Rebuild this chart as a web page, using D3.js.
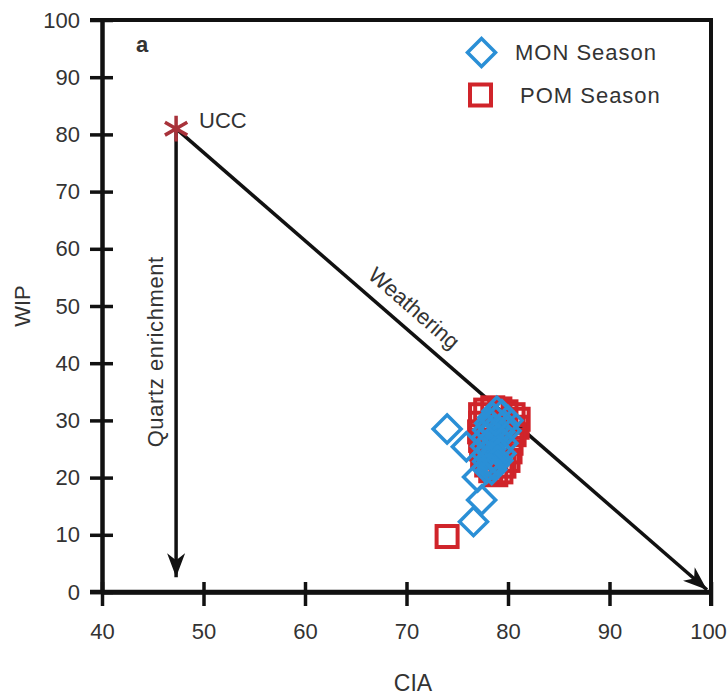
<!DOCTYPE html>
<html>
<head>
<meta charset="utf-8">
<script src="https://cdn.jsdelivr.net/npm/d3@7"></script>
<style>
  body { margin: 0; background: #fff; }
  text { font-family: "Liberation Sans", Arial, sans-serif; fill: #333; }
</style>
</head>
<body>
<svg id="chart" width="728" height="698"></svg>
<script>
// CIA vs WIP, monsoon (MON) and post-monsoon (POM) samples
const xTicks = [40, 50, 60, 70, 80, 90, 100]
const yTicks = [0, 10, 20, 30, 40, 50, 60, 70, 80, 90, 100]

const ucc = [47.3, 81]
const weatherEnd = [99.6, 0.4]
const quartzEnd = [47.3, 2.6]

// POM season [CIA, WIP]
const pom = [
  [77.3, 31], [77.3, 29.5], [77.2, 28], [77.3, 26.5], [77.4, 25],
  [77.5, 23.5], [77.8, 31.8], [78.5, 32.2], [79.2, 32], [79.8, 31.5],
  [80.5, 31], [81, 30.2], [80.9, 28.8], [80.6, 27.5], [80.3, 26],
  [80.2, 24.5], [80, 23], [79.6, 22], [79.3, 21], [78.8, 20.5],
  [78.3, 21.2], [77.9, 22.2], [78, 26], [78.6, 27.5], [79.2, 25.5],
  [79.5, 29.5], [74, 9.7]
]

// MON season [CIA, WIP]
const mon = [
  [74, 28.5], [75.9, 25.4], [77, 20.1], [77.4, 16.1], [76.6, 12.3],
  [78.9, 31.6], [79.4, 31], [80, 30], [79.6, 29.2], [78.5, 30.5],
  [78.2, 29.5], [78, 28.3], [78.6, 28.5], [79.2, 28], [79.8, 28.2],
  [77.9, 27], [78.4, 26.5], [79, 26.8], [79.5, 26], [77.8, 25.5],
  [78.3, 25], [78.9, 24.8], [79.3, 24.2], [77.9, 24], [78.5, 23.5],
  [78, 22.8], [78.6, 22.2], [79, 23], [77.9, 21.6], [78.4, 21.4],
  [78.3, 27.8], [78.8, 30]
]

const svg = d3.select('#chart')

const x = d3.scaleLinear().domain([40, 100]).range([102, 711])
const y = d3.scaleLinear().domain([0, 100]).range([592, 20])

const blue = '#2a8fd6'
const red = '#d0242a'
const ink = '#111'
const fs = '22px'

// arrow head
svg.append('defs').append('marker')
  .attr('id', 'head')
  .attr('viewBox', '0 -9 24 18')
  .attr('refX', 24).attr('refY', 0)
  .attr('markerWidth', 24).attr('markerHeight', 18)
  .attr('markerUnits', 'userSpaceOnUse')
  .attr('orient', 'auto')
  .append('path')
  .attr('d', 'M0,-9L24,0L0,9L7,0Z')
  .attr('fill', ink)

// frame: top and right
svg.append('line')
  .attr('x1', x(40) - 12).attr('x2', x(100) + 2)
  .attr('y1', y(100)).attr('y2', y(100))
  .attr('stroke', ink).attr('stroke-width', 4)
svg.append('line')
  .attr('x1', x(100)).attr('x2', x(100))
  .attr('y1', y(100)).attr('y2', y(0) + 14)
  .attr('stroke', ink).attr('stroke-width', 4)

// axes
const gx = svg.append('g')
  .attr('transform', `translate(0,${y(0)})`)
  .call(d3.axisBottom(x).tickValues(xTicks).tickSize(14).tickPadding(17).tickSizeOuter(0))
gx.selectAll('.tick line').attr('y1', -10).attr('stroke-width', 3.5).attr('stroke', ink)
// last label sits at the window edge
gx.selectAll('.tick text').filter(d => d === 100).attr('dx', -3)

const gy = svg.append('g')
  .attr('transform', `translate(${x(40)},0)`)
  .call(d3.axisLeft(y).tickValues(yTicks).tickSize(12).tickPadding(10).tickSizeOuter(0))
gy.selectAll('.tick line').attr('x2', -12).attr('x1', 11).attr('stroke-width', 3.5).attr('stroke', ink)

svg.selectAll('.domain').attr('stroke', ink).attr('stroke-width', 4.5)
svg.selectAll('.tick text')
  .style('font-family', '"Liberation Sans", Arial, sans-serif')
  .style('font-size', fs).attr('fill', '#333')

svg.append('line')
  .attr('x1', x(40) - 12).attr('x2', x(100))
  .attr('y1', y(0)).attr('y2', y(0))
  .attr('stroke', ink).attr('stroke-width', 4.5)

// axis titles
svg.append('text')
  .attr('x', 413).attr('y', 691)
  .attr('text-anchor', 'middle')
  .style('font-size', '23px')
  .text('CIA')
svg.append('text')
  .attr('transform', `translate(30,${y(50)}) rotate(-90)`)
  .attr('text-anchor', 'middle')
  .style('font-size', fs)
  .text('WIP')

svg.append('text')
  .attr('x', 136).attr('y', 52)
  .style('font-size', fs).style('font-weight', 'bold')
  .attr('fill', '#222')
  .text('a')

// trend lines
const p0 = [x(ucc[0]), y(ucc[1])]
const p1 = [x(weatherEnd[0]), y(weatherEnd[1])]
svg.append('line')
  .attr('x1', p0[0]).attr('y1', p0[1])
  .attr('x2', p1[0]).attr('y2', p1[1])
  .attr('stroke', ink).attr('stroke-width', 3.5)
  .attr('marker-end', 'url(#head)')
svg.append('line')
  .attr('x1', p0[0]).attr('y1', p0[1])
  .attr('x2', x(quartzEnd[0])).attr('y2', y(quartzEnd[1]))
  .attr('stroke', ink).attr('stroke-width', 3.5)
  .attr('marker-end', 'url(#head)')

const ang = Math.atan2(p1[1] - p0[1], p1[0] - p0[0]) * 180 / Math.PI
const pm = d3.interpolate(p0, p1)(0.423)
svg.append('text')
  .attr('transform', `translate(${pm[0]},${pm[1]}) rotate(${ang})`)
  .attr('y', -13)
  .attr('text-anchor', 'middle')
  .style('font-size', fs)
  .text('Weathering')

svg.append('text')
  .attr('transform', `translate(${p0[0] - 21},${y(42)}) rotate(-90)`)
  .attr('text-anchor', 'middle')
  .attr('dy', '0.35em')
  .style('font-size', fs)
  .style('letter-spacing', '0.6px')
  .text('Quartz enrichment')

// UCC marker
svg.append('path')
  .attr('d', d3.symbol(d3.symbolAsterisk, 470)())
  .attr('transform', `translate(${p0[0]},${p0[1]})`)
  .attr('fill', 'none').attr('stroke', '#a8323a').attr('stroke-width', 3.5)
svg.append('text')
  .attr('x', p0[0] + 23).attr('y', p0[1] - 1)
  .style('font-size', fs)
  .text('UCC')

// data
const sq = 21
svg.append('g').selectAll('rect').data(pom).enter()
  .append('rect')
  .attr('x', d => x(d[0]) - sq / 2)
  .attr('y', d => y(d[1]) - sq / 2)
  .attr('width', sq).attr('height', sq)
  .attr('fill', 'none').attr('stroke', red).attr('stroke-width', 4)

const dia = 14
const side = dia * Math.SQRT2
svg.append('g').selectAll('rect').data(mon).enter()
  .append('rect')
  .attr('x', -side / 2).attr('y', -side / 2)
  .attr('width', side).attr('height', side)
  .attr('transform', d => `translate(${x(d[0])},${y(d[1])}) rotate(45)`)
  .attr('fill', 'none').attr('stroke', blue).attr('stroke-width', 3.5)

// legend
const legend = svg.append('g')
legend.append('rect')
  .attr('x', -side / 2).attr('y', -side / 2)
  .attr('width', side).attr('height', side)
  .attr('transform', 'translate(481.5,52.5) rotate(45)')
  .attr('fill', 'none').attr('stroke', blue).attr('stroke-width', 3.5)
legend.append('text')
  .attr('x', 515).attr('y', 60)
  .style('font-size', fs).style('letter-spacing', '1px')
  .text('MON Season')
legend.append('rect')
  .attr('x', 480.5 - sq / 2).attr('y', 95 - sq / 2)
  .attr('width', sq).attr('height', sq)
  .attr('fill', 'none').attr('stroke', red).attr('stroke-width', 4)
legend.append('text')
  .attr('x', 520).attr('y', 103)
  .style('font-size', fs).style('letter-spacing', '1px')
  .text('POM Season')
</script>
</body>
</html>
